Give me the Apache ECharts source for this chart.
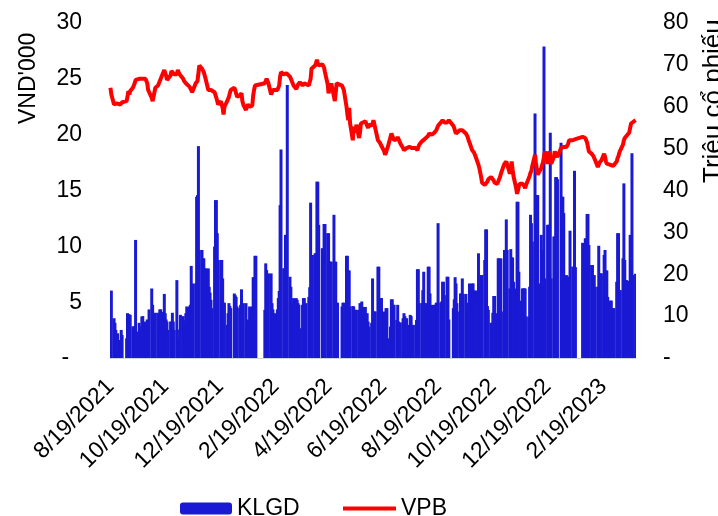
<!DOCTYPE html>
<html>
<head>
<meta charset="utf-8">
<script src="https://cdn.jsdelivr.net/npm/echarts@6/dist/echarts.min.js"></script>
<style>
  html, body { margin: 0; padding: 0; background: #fff; }
  #chart { width: 718px; height: 516px; }
</style>
</head>
<body>
<div id="chart"></div>
<script>
// calendar range shown on the date axis
const startDate = '2021-08-19'
const endDate = '2023-03-27'
// market closed on these weekdays
const holidays = [
  '2021-09-02', '2021-09-03', '2022-01-03',
  '2022-01-31', '2022-02-01', '2022-02-02', '2022-02-03', '2022-02-04',
  '2022-04-11', '2022-05-02', '2022-05-03', '2022-09-01', '2022-09-02',
  '2023-01-02', '2023-01-20', '2023-01-23', '2023-01-24', '2023-01-25', '2023-01-26'
]

// KLGD, million shares, one row per trading week
const volume = [
  12.3, 16.1,
  9.5, 8.4, 6.7, 4.3, 5.9,
  4.3, 6.7, 5.5,
  4.7, 10.7, 10.5, 10.4, 10.3,
  7.5, 7.6, 6.3, 28.2, 6.3,
  8.4, 7.5, 7.5, 9.9, 10.0,
  8.7, 7.3, 9.2, 7.1, 11.6,
  16.6, 12.7, 7.1, 6.7, 10.8,
  10.8, 9.2, 11.6, 11.6, 11.0,
  15.3, 10.7, 9.2, 8.7, 6.7,
  8.7, 8.7, 10.8, 8.7, 6.7,
  18.6, 4.7, 4.5, 6.8, 10.3,
  10.0, 9.0, 7.1, 10.7, 12.3,
  12.3, 12.7, 22.0, 17.4, 17.8,
  17.8, 38.5, 38.9, 50.6, 25.8,
  25.8, 23.8, 23.8, 21.4, 21.4,
  21.4, 17.0, 15.6, 13.9, 11.9,
  26.6, 37.7, 37.7, 29.8, 23.4,
  23.4, 23.4, 19.0, 13.2, 13.2,
  7.9, 10.7, 13.1, 12.4, 11.9,
  15.4, 15.0, 14.6, 12.3,
  11.9, 12.7, 16.4, 6.7, 13.1,
  13.1, 6.7, 9.1, 9.2, 12.3,
  12.3, 19.3, 19.3, 24.4, 24.4,
  11.5, 22.6, 21.0, 15.4, 20.2,
  20.2, 13.1, 11.6, 10.3, 10.7,
  11.6, 14.3, 16.0, 36.5, 49.8,
  21.4, 21.4, 29.4, 29.4, 65.2,
  19.4, 17.0, 13.1, 11.5, 14.3,
  14.3, 13.9, 13.1, 12.7, 7.1,
  12.7, 14.3, 14.3, 11.9, 13.1,
  14.6, 16.9, 37.1, 24.6, 24.6,
  25.0, 25.0, 42.1, 42.1, 31.8,
  26.2, 26.2, 32.0, 32.0,
  29.8, 29.8, 23.0, 23.0, 23.0,
  34.2, 23.0, 23.0, 13.2, 13.2,
  12.3, 13.2, 13.2,
  24.4, 24.4, 20.9, 20.9, 12.3,
  12.4, 12.3, 9.9, 11.5, 11.5,
  11.5, 13.1, 9.9, 13.5, 12.2,
  12.2, 9.1, 10.7, 8.7, 7.5,
  8.4, 19.0, 11.1, 11.1, 11.1,
  21.8, 21.8, 14.0, 14.3, 14.3,
  11.1, 10.7, 11.9, 11.9, 4.7,
  7.5, 14.0, 14.0, 12.7, 12.7,
  9.1, 12.7, 8.7, 7.9, 8.5,
  9.5, 10.7, 10.0, 7.9, 9.5,
  7.9, 10.3, 10.0, 7.9, 7.9,
  7.9, 9.1, 21.2, 21.2, 13.1,
  13.1, 16.2, 20.6, 13.1, 13.1,
  21.8, 21.8, 15.4, 9.9, 12.7,
  12.7, 12.7, 13.2, 13.2, 32.2,
  13.2, 13.5, 18.2, 18.2, 15.0,
  19.4, 19.4, 9.2,
  11.9, 14.0, 19.3, 17.8, 13.1,
  11.1, 15.4, 15.4, 19.0, 15.3,
  15.3, 13.2, 13.1, 11.1, 17.8,
  17.8, 17.8, 13.1, 16.1, 16.1,
  25.0, 17.8, 16.4, 19.8, 19.8,
  23.4, 30.7, 30.7, 12.4, 11.5,
  8.4, 8.4, 10.8, 14.8, 14.8,
  10.7, 23.8, 23.8, 11.1, 23.8,
  11.1, 25.8, 25.8, 33.1, 25.8,
  16.6, 26.0, 24.0, 24.0, 18.2,
  16.6, 37.3, 37.3, 20.6, 13.7,
  16.6, 16.6, 16.6, 16.6, 9.9,
  9.9, 17.0, 34.2, 32.2, 27.8,
  58.4, 38.9, 38.9, 38.9, 17.8,
  29.4, 25.8, 25.8, 74.4, 19.0,
  31.8, 31.8, 31.8, 53.8, 19.0,
  29.0, 29.0, 43.2, 43.2, 42.7,
  51.4, 38.5, 38.5, 34.6,
  19.8, 19.4, 19.4, 19.4, 30.4,
  21.8, 21.8, 44.7, 21.7,
  27.5,
  28.6, 28.2, 34.4, 34.4, 27.0,
  22.2, 22.2, 19.8, 19.8, 17.0,
  17.0, 26.8, 20.2, 20.2, 20.2,
  24.6, 25.8, 20.9, 20.9, 14.6,
  13.7, 13.7, 11.9, 11.9, 11.9,
  18.2, 29.8, 29.8, 16.2, 16.2,
  23.8, 41.7, 23.4, 18.6, 18.6,
  18.4, 29.4, 29.4, 48.9, 19.8,
  20.1
]

// VPB close, VND'000, same trading days
const price = [
  24.2, 23.6,
  22.7, 22.6, 22.8, 22.8, 22.7,
  22.7, 22.8, 22.9,
  23.0, 23.4, 23.9, 23.6, 23.9,
  24.2, 24.3, 24.6, 24.9, 25.0,
  25.0, 24.9, 25.0, 25.0, 24.9,
  25.0, 25.0, 24.6, 24.0, 23.9,
  23.3, 23.0, 23.1, 23.8, 24.2,
  24.4, 24.6, 24.7, 25.0, 25.2,
  25.8, 25.5, 25.3, 24.9, 24.9,
  25.3, 25.7, 25.8, 25.6, 25.4,
  25.4, 25.8, 25.6, 25.4, 25.3,
  25.0, 24.8, 24.7, 24.6, 24.5,
  24.3, 24.2, 24.0, 23.8, 23.7,
  24.6, 24.7, 24.8, 25.5, 26.2,
  25.9, 25.8, 25.6, 25.3, 25.0,
  24.0, 24.0, 24.1, 24.0, 24.0,
  23.8, 23.7, 23.3, 23.0, 22.7,
  23.0, 22.7, 22.4, 21.8, 22.5,
  23.0, 23.1, 23.4, 23.7, 24.0,
  24.2, 24.0, 23.7, 23.4,
  23.5, 23.6, 23.7, 23.0, 22.7,
  22.2, 22.5, 22.7, 22.6, 22.5,
  22.6, 23.5, 24.0, 24.4, 24.5,
  24.6, 24.8, 25.0, 24.8, 24.6,
  23.6, 23.7, 24.0, 24.1, 24.1,
  24.0, 23.9, 24.4, 25.2, 25.6,
  25.4, 25.3, 25.4, 25.5, 25.5,
  25.2, 25.0, 24.8, 24.6, 24.4,
  24.1, 24.3, 24.5, 24.6, 24.7,
  24.4, 24.5, 24.6, 24.5, 24.6,
  24.4, 24.3, 25.0, 25.9, 26.0,
  26.2, 26.4, 26.7, 26.4, 26.2,
  26.3, 26.4, 26.0, 25.6,
  24.5, 23.7, 24.0, 24.3, 24.6,
  23.4, 23.0, 23.8, 24.6, 24.6,
  24.4, 24.2, 24.0,
  22.5, 21.8, 21.3, 22.4, 21.0,
  19.5, 20.7, 20.5, 20.2, 20.9,
  19.7, 20.2, 21.0, 21.0, 20.9,
  21.2, 21.0, 20.8, 20.6, 20.9,
  20.8, 21.0, 21.3, 21.3, 21.2,
  19.5, 19.4, 19.3, 19.2, 19.2,
  18.5, 18.2, 18.4, 18.7, 18.9,
  19.8, 20.1, 19.9, 19.7, 19.5,
  19.6, 19.8, 19.6, 19.4, 19.2,
  18.8, 18.6, 18.5, 18.7, 18.8,
  18.9, 18.9, 18.9, 18.8, 18.9,
  18.8, 18.7, 18.6, 18.9, 19.1,
  19.4, 19.5, 19.5, 19.6, 19.7,
  19.9, 20.1, 20.1, 20.0, 20.0,
  20.2, 20.3, 20.4, 20.6, 20.8,
  21.1, 21.2, 21.3, 21.2, 21.1,
  21.1, 21.2, 21.3,
  20.8, 20.6, 20.3, 20.1, 20.2,
  20.4, 20.4, 20.4, 20.4, 20.4,
  20.1, 20.0, 19.8, 19.5, 19.3,
  18.6, 18.5, 18.4, 18.2, 18.0,
  17.3, 17.0, 16.6, 16.2, 15.7,
  15.5, 15.5, 15.5, 15.8, 16.0,
  16.2, 16.1, 16.1, 15.9, 15.7,
  15.6, 15.8, 15.9, 16.2, 16.5,
  17.2, 17.4, 17.5, 17.6, 17.6,
  16.5, 17.0, 17.6, 16.9, 16.3,
  15.2, 14.7, 15.0, 15.4, 15.6,
  15.6, 15.6, 15.4, 15.2, 15.5,
  16.1, 16.3, 16.6, 16.8, 17.2,
  18.2, 17.5, 16.9, 16.4, 16.6,
  17.0, 17.1, 17.6, 18.0, 18.5,
  17.4, 18.0, 18.5, 18.0, 17.4,
  18.0, 18.5, 18.3, 18.2, 18.0,
  18.8, 18.8, 18.9, 18.9,
  18.9, 18.8, 19.2, 19.5, 19.5,
  19.5, 19.5, 19.6, 19.6,
  19.8,
  19.7, 19.5, 19.3, 18.9, 18.5,
  18.3, 18.2, 18.1, 18.0, 17.7,
  17.1, 17.3, 17.5, 17.6, 17.7,
  18.3, 18.0, 17.6, 17.4, 17.3,
  17.3, 17.3, 17.2, 17.2, 17.1,
  17.6, 17.9, 18.1, 18.4, 18.6,
  19.1, 19.5, 19.7, 19.8, 19.8,
  20.2, 20.6, 21.0, 21.0, 21.1,
  21.3
]

const leftTicks = { min: 0, max: 30, step: 5 }
const rightTicks = { min: 0, max: 80, step: 10 }

// every calendar day is a category, so weekends and holidays leave gaps
const days = []
const dayLabels = []
const volData = []
const priceData = []
let k = 0
const t0 = Date.parse(startDate + 'T00:00:00Z')
const t1 = Date.parse(endDate + 'T00:00:00Z')
for (let t = t0; t <= t1; t += 86400000) {
  const d = new Date(t)
  const iso = d.toISOString().slice(0, 10)
  days.push(d)
  dayLabels.push((d.getUTCMonth() + 1) + '/' + d.getUTCDate() + '/' + d.getUTCFullYear())
  const wd = d.getUTCDay()
  if (wd !== 0 && wd !== 6 && holidays.indexOf(iso) < 0 && k < volume.length) {
    volData.push(volume[k])
    priceData.push(price[k])
    k++
  } else {
    volData.push('-')
    priceData.push('-')
  }
}
if (k !== volume.length) console.error('trading days', k, 'values', volume.length)

// label every second month on the 19th
const showTick = (i) => days[i].getUTCDate() === 19 && (days[i].getUTCMonth() + 1) % 2 === 0

const font = '"Liberation Sans", Arial, sans-serif'
const legendText = { fontSize: 23, color: '#000', fontFamily: font }

const chart = echarts.init(document.getElementById('chart'))
chart.setOption({
  animation: false,
  textStyle: { fontFamily: font },
  grid: { left: 110, right: 82, top: 23, bottom: 158 },
  legend: [
    {
      data: ['KLGD'],
      left: 180,
      top: 497,
      padding: 0,
      itemWidth: 52,
      itemHeight: 12,
      textStyle: legendText
    },
    {
      data: [{ name: 'VPB', icon: 'rect' }],
      left: 343,
      top: 497,
      padding: 0,
      itemWidth: 53,
      itemHeight: 4,
      textStyle: legendText
    }
  ],
  xAxis: {
    type: 'category',
    data: dayLabels,
    boundaryGap: true,
    axisLine: { lineStyle: { color: '#d4d4d4', width: 1 } },
    axisTick: { interval: showTick, alignWithLabel: true, length: 6, lineStyle: { color: '#d4d4d4', width: 2 } },
    axisLabel: { interval: showTick, rotate: 45, fontSize: 23, color: '#000', margin: 25, fontFamily: font },
    splitLine: { show: false }
  },
  yAxis: [
    {
      type: 'value',
      min: leftTicks.min,
      max: leftTicks.max,
      interval: leftTicks.step,
      axisLine: { show: false },
      axisTick: { show: false },
      splitLine: { show: false },
      axisLabel: {
        fontSize: 23, color: '#000', margin: 28, fontFamily: font,
        formatter: (v) => v === 0 ? '-  ' : String(v)
      }
    },
    {
      type: 'value',
      min: rightTicks.min,
      max: rightTicks.max,
      interval: rightTicks.step,
      position: 'right',
      axisLine: { show: false },
      axisTick: { show: false },
      splitLine: { show: false },
      axisLabel: {
        fontSize: 23, color: '#000', margin: 27, fontFamily: font,
        formatter: (v) => v === 0 ? '-' : String(v)
      }
    }
  ],
  graphic: [
    {
      type: 'text', x: 29, y: 124, rotation: Math.PI / 2,
      style: { text: "VND'000", font: '23px ' + font, fill: '#000', textAlign: 'left', textVerticalAlign: 'middle' }
    },
    {
      type: 'text', x: 714, y: 183, rotation: Math.PI / 2,
      style: { text: 'Triệu cổ phiếu', font: '26px ' + font, fill: '#000', textAlign: 'left', textVerticalAlign: 'middle' }
    }
  ],
  series: [
    {
      name: 'KLGD',
      type: 'bar',
      yAxisIndex: 1,
      data: volData,
      barWidth: 3,
      itemStyle: { color: '#1a1ad4' }
    },
    {
      name: 'VPB',
      type: 'line',
      yAxisIndex: 0,
      data: priceData,
      connectNulls: true,
      showSymbol: false,
      symbol: 'none',
      lineStyle: { color: '#ff0000', width: 4 },
      itemStyle: { color: '#ff0000' },
      z: 3
    }
  ]
})
</script>
</body>
</html>
